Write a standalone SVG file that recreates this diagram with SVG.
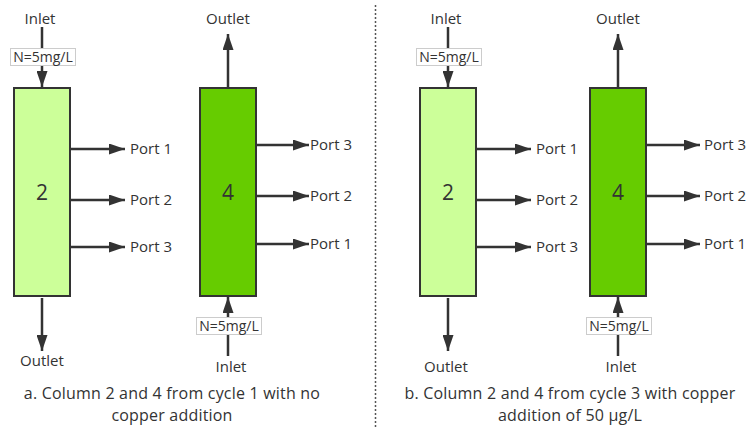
<svg xmlns="http://www.w3.org/2000/svg" width="749" height="427" viewBox="0 0 749 427">
<defs>
<marker id="ah" markerUnits="userSpaceOnUse" markerWidth="17" markerHeight="11" refX="16" refY="5.5" orient="auto">
<path d="M0,0 L16,5.5 L0,11 z" fill="#333"/>
</marker>
<style>
text{font-family:"Open Sans","Noto Sans","DejaVu Sans",sans-serif;fill:#333}
.lbl{font-size:15px}
.port{font-size:15px}
.num{font-size:21px;text-anchor:middle}
.mid{text-anchor:middle}
.cap{font-size:16px;letter-spacing:0.2px;text-anchor:middle}
.c2{fill:#ccff99;stroke:#333;stroke-width:2}
.c4{fill:#66cc00;stroke:#333;stroke-width:2}
.ln{stroke:#333;stroke-width:2.5;fill:none}
.ar{stroke:#333;stroke-width:2.5;fill:none;marker-end:url(#ah)}
.box{fill:#fff;stroke:#ccc;stroke-width:1}
.conc{font-size:14px;text-anchor:middle}
</style>
</defs>
<rect width="749" height="427" fill="#fff"/>

<g id="connectors">
<line class="ln" x1="42" y1="27" x2="42" y2="49"/>
<line class="ar" x1="42" y1="65" x2="42" y2="87"/>
<line class="ar" x1="42" y1="298" x2="42" y2="351"/>
<line class="ar" x1="71" y1="149" x2="125" y2="149"/>
<line class="ar" x1="71" y1="200" x2="125" y2="200"/>
<line class="ar" x1="71" y1="247" x2="125" y2="247"/>
<line class="ar" x1="228" y1="87" x2="228" y2="34"/>
<line class="ln" x1="228" y1="356" x2="228" y2="334"/>
<line class="ar" x1="228" y1="317" x2="228" y2="297"/>
<line class="ar" x1="257" y1="145" x2="309" y2="145"/>
<line class="ar" x1="257" y1="196" x2="309" y2="196"/>
<line class="ar" x1="257" y1="244" x2="309" y2="244"/>
<line class="ln" x1="448" y1="27" x2="448" y2="49"/>
<line class="ar" x1="448" y1="65" x2="448" y2="87"/>
<line class="ar" x1="448" y1="298" x2="448" y2="351"/>
<line class="ar" x1="477" y1="149" x2="531" y2="149"/>
<line class="ar" x1="477" y1="200" x2="531" y2="200"/>
<line class="ar" x1="477" y1="247" x2="531" y2="247"/>
<line class="ar" x1="618" y1="87" x2="618" y2="34"/>
<line class="ln" x1="618" y1="356" x2="618" y2="334"/>
<line class="ar" x1="618" y1="317" x2="618" y2="297"/>
<line class="ar" x1="647" y1="145" x2="700" y2="145"/>
<line class="ar" x1="647" y1="196" x2="700" y2="196"/>
<line class="ar" x1="647" y1="244" x2="700" y2="244"/>
</g>

<line x1="375.5" y1="5" x2="375.5" y2="427" stroke="#555" stroke-width="1.5" stroke-dasharray="2,2"/>

<g id="a-col2">
<rect class="c2" x="14" y="88" width="56" height="208"/>
<text class="num" x="42" y="200">2</text>
</g>
<g id="a-col2-labels">
<text class="lbl mid" x="40" y="24">Inlet</text>
<rect class="box" x="10.5" y="48.5" width="65" height="17"/>
<text class="conc" x="43" y="62">N=5mg/L</text>
<text class="lbl mid" x="42" y="366">Outlet</text>
<text class="port" x="130" y="154">Port 1</text>
<text class="port" x="130" y="205">Port 2</text>
<text class="port" x="130" y="252">Port 3</text>
</g>

<g id="a-col4">
<rect class="c4" x="200" y="88" width="56" height="208"/>
<text class="num" x="228" y="200">4</text>
</g>
<g id="a-col4-labels">
<text class="lbl mid" x="228" y="24">Outlet</text>
<rect class="box" x="196.5" y="317.5" width="65" height="17"/>
<text class="conc" x="229" y="331">N=5mg/L</text>
<text class="lbl mid" x="231" y="372">Inlet</text>
<text class="port" x="310" y="150">Port 3</text>
<text class="port" x="310" y="201">Port 2</text>
<text class="port" x="310" y="249">Port 1</text>
</g>

<g id="b-col2">
<rect class="c2" x="420" y="88" width="56" height="208"/>
<text class="num" x="448" y="200">2</text>
</g>
<g id="b-col2-labels">
<text class="lbl mid" x="446" y="24">Inlet</text>
<rect class="box" x="416.5" y="48.5" width="65" height="17"/>
<text class="conc" x="449" y="62">N=5mg/L</text>
<text class="lbl mid" x="446" y="372">Outlet</text>
<text class="port" x="536" y="154">Port 1</text>
<text class="port" x="536" y="205">Port 2</text>
<text class="port" x="536" y="252">Port 3</text>
</g>

<g id="b-col4">
<rect class="c4" x="590" y="88" width="56" height="208"/>
<text class="num" x="618" y="200">4</text>
</g>
<g id="b-col4-labels">
<text class="lbl mid" x="618" y="24">Outlet</text>
<rect class="box" x="586.5" y="317.5" width="65" height="17"/>
<text class="conc" x="619" y="331">N=5mg/L</text>
<text class="lbl mid" x="621" y="372">Inlet</text>
<text class="port" x="704" y="150">Port 3</text>
<text class="port" x="704" y="201">Port 2</text>
<text class="port" x="704" y="249">Port 1</text>
</g>

<g id="captions">
<text class="cap" x="172" y="399">a. Column 2 and 4 from cycle 1 with no</text>
<text class="cap" x="172" y="421">copper addition</text>
<text class="cap" x="570" y="399">b. Column 2 and 4 from cycle 3 with copper</text>
<text class="cap" x="570" y="421">addition of 50 μg/L</text>
</g>
</svg>
